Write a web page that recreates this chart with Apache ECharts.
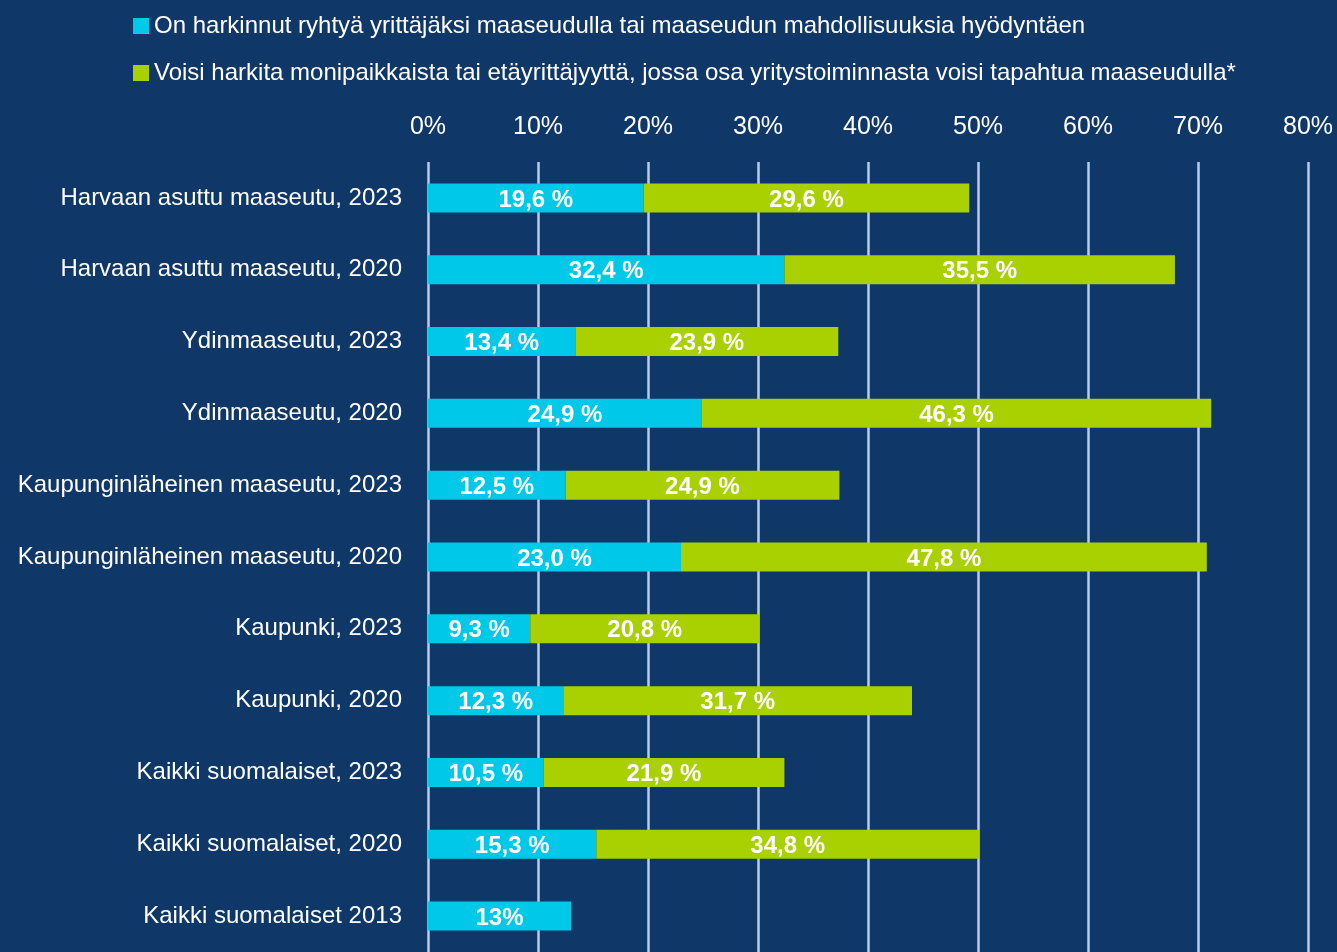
<!DOCTYPE html>
<html>
<head>
<meta charset="utf-8">
<script src="https://cdn.jsdelivr.net/npm/echarts@6/dist/echarts.min.js"></script>
<style>
  html, body { margin: 0; padding: 0; background: #0f3767; }
  #chart { width: 1337px; height: 952px; }
</style>
</head>
<body>
<div id="chart"></div>
<script>
const categories = [
  'Harvaan asuttu maaseutu, 2023',
  'Harvaan asuttu maaseutu, 2020',
  'Ydinmaaseutu, 2023',
  'Ydinmaaseutu, 2020',
  'Kaupunginläheinen maaseutu, 2023',
  'Kaupunginläheinen maaseutu, 2020',
  'Kaupunki, 2023',
  'Kaupunki, 2020',
  'Kaikki suomalaiset, 2023',
  'Kaikki suomalaiset, 2020',
  'Kaikki suomalaiset 2013'
];
const consideredValues = [19.6, 32.4, 13.4, 24.9, 12.5, 23.0, 9.3, 12.3, 10.5, 15.3, 13];
const consideredLabels = ['19,6 %', '32,4 %', '13,4 %', '24,9 %', '12,5 %', '23,0 %', '9,3 %', '12,3 %', '10,5 %', '15,3 %', '13%'];
const multiValues = [29.6, 35.5, 23.9, 46.3, 24.9, 47.8, 20.8, 31.7, 21.9, 34.8, null];
const multiLabels = ['29,6 %', '35,5 %', '23,9 %', '46,3 %', '24,9 %', '47,8 %', '20,8 %', '31,7 %', '21,9 %', '34,8 %', ''];
const seriesNames = [
  'On harkinnut ryhtyä yrittäjäksi maaseudulla tai maaseudun mahdollisuuksia hyödyntäen',
  'Voisi harkita monipaikkaista tai etäyrittäjyyttä, jossa osa yritystoiminnasta voisi tapahtua maaseudulla*'
];
const xTicks = [0, 10, 20, 30, 40, 50, 60, 70, 80];

const font = '"Liberation Sans Narrow", "Arial Narrow", "Liberation Sans", sans-serif';
const chart = echarts.init(document.getElementById('chart'));

const barLabel = (labels) => ({
  show: true,
  position: 'inside',
  offset: [0, 2],
  color: '#ffffff',
  fontFamily: font,
  fontWeight: 'bold',
  fontSize: 24,
  formatter: (p) => labels[p.dataIndex]
});

chart.setOption({
  backgroundColor: '#0f3767',
  animation: false,
  legend: {
    orient: 'vertical',
    left: 128,
    top: 9,
    itemWidth: 16,
    itemHeight: 16,
    itemGap: 23,
    icon: 'rect',
    textStyle: { color: '#ffffff', fontSize: 24, fontFamily: font },
    data: seriesNames
  },
  grid: { left: 428, right: 29, top: 162, bottom: -2, containLabel: false },
  xAxis: {
    type: 'value',
    position: 'top',
    min: xTicks[0],
    max: xTicks[xTicks.length - 1],
    interval: 10,
    axisLine: { show: false },
    axisTick: { show: false },
    axisLabel: {
      color: '#ffffff', fontSize: 25, fontFamily: font, margin: 22,
      formatter: '{value}%'
    },
    splitLine: { show: true, lineStyle: { color: '#b8cdee', width: 2.5 } }
  },
  yAxis: {
    type: 'category',
    inverse: true,
    data: categories,
    axisLine: { show: false },
    axisTick: { show: false },
    axisLabel: { color: '#ffffff', fontSize: 24, fontFamily: font, margin: 26, padding: [4, 0, 0, 0] }
  },
  series: [
    {
      name: seriesNames[0],
      type: 'bar',
      stack: 'total',
      barWidth: 29,
      itemStyle: { color: '#00c8e8' },
      label: barLabel(consideredLabels),
      data: consideredValues
    },
    {
      name: seriesNames[1],
      type: 'bar',
      stack: 'total',
      barWidth: 29,
      itemStyle: { color: '#a9d000' },
      label: barLabel(multiLabels),
      data: multiValues
    }
  ]
});
</script>
</body>
</html>
